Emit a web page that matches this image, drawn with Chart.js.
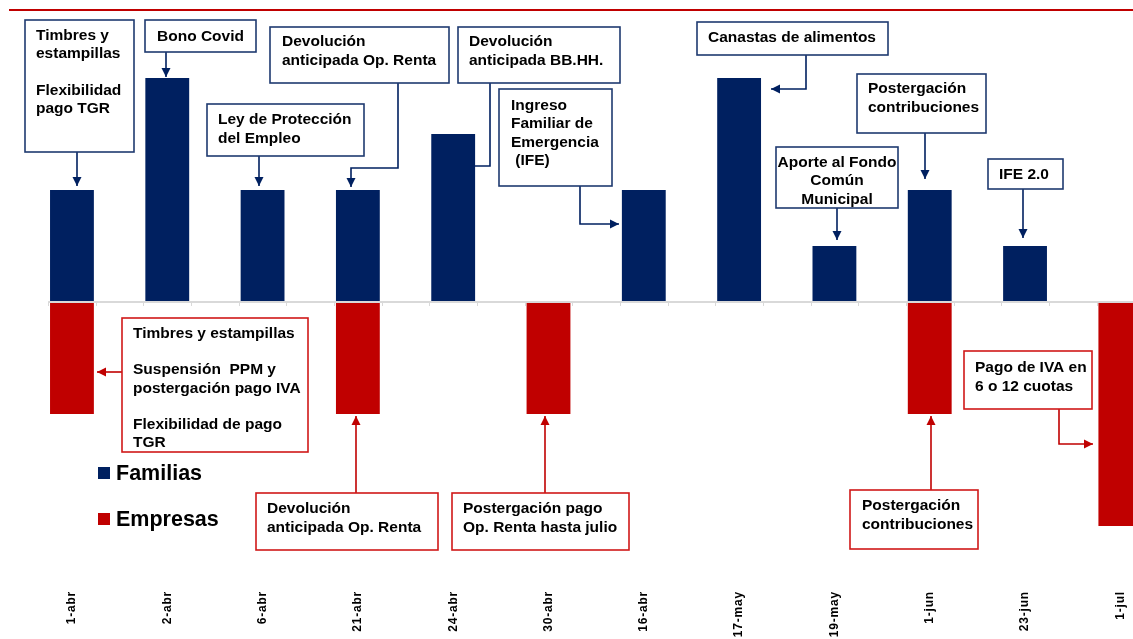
<!DOCTYPE html>
<html>
<head>
<meta charset="utf-8">
<script src="https://cdn.jsdelivr.net/npm/chart.js@4.4.1/dist/chart.umd.min.js"></script>
<style>
  html, body { margin: 0; padding: 0; overflow: hidden; background: #fff; }
  canvas { display: block; }
</style>
</head>
<body>
<canvas id="medidasChart" width="1169" height="639"></canvas>
<script>
const categories = ["1-abr", "2-abr", "6-abr", "21-abr", "24-abr", "30-abr", "16-abr", "17-may", "19-may", "1-jun", "23-jun", "1-jul"];
const familias = [2, 4, 2, 2, 3, null, 2, 4, 1, 2, 1, null];
const empresas = [-2, null, null, -2, null, -2, null, null, null, -2, null, -4];

const NAVY = "#002060";
const RED = "#C00000";
const FONT = '"Liberation Sans", Arial, sans-serif';

// text boxes with their connectors (canvas pixels)
const notes = [
  { c: "navy", box: [25, 20, 109, 132], tx: 36, bl: 40, lh: 18.3, lines: ["Timbres y", "estampillas", "", "Flexibilidad", "pago TGR"], arrow: [[77, 152], [77, 186]] },
  { c: "navy", box: [145, 20, 111, 32], tx: 157, bl: 41, lh: 18.5, lines: ["Bono Covid"], arrow: [[166, 52], [166, 77]] },
  { c: "navy", box: [270, 27, 179, 56], tx: 282, bl: 46, lh: 19, lines: ["Devolución", "anticipada Op. Renta"], arrow: [[398, 83], [398, 168], [351, 168], [351, 187]] },
  { c: "navy", box: [207, 104, 157, 52], tx: 218, bl: 124, lh: 18.7, lines: ["Ley de Protección", "del Empleo"], arrow: [[259, 156], [259, 186]] },
  { c: "navy", box: [458, 27, 162, 56], tx: 469, bl: 46, lh: 19, lines: ["Devolución", "anticipada BB.HH."], arrow: [[490, 83], [490, 166], [475, 166]], noHead: true },
  { c: "navy", box: [499, 89, 113, 97], tx: 511, bl: 110, lh: 18.3, lines: ["Ingreso", "Familiar de", "Emergencia", " (IFE)"], arrow: [[580, 186], [580, 224], [619, 224]] },
  { c: "navy", box: [697, 22, 191, 33], tx: 708, bl: 42, lh: 18.5, lines: ["Canastas de alimentos"], arrow: [[806, 55], [806, 89], [771, 89]] },
  { c: "navy", box: [857, 74, 129, 59], tx: 868, bl: 93, lh: 19, lines: ["Postergación", "contribuciones"], arrow: [[925, 133], [925, 179]] },
  { c: "navy", box: [776, 147, 122, 61], tx: 837, bl: 167, lh: 18.3, center: true, lines: ["Aporte al Fondo", "Común", "Municipal"], arrow: [[837, 208], [837, 240]] },
  { c: "navy", box: [988, 159, 75, 30], tx: 999, bl: 179, lh: 18.5, lines: ["IFE 2.0"], arrow: [[1023, 189], [1023, 238]] },
  { c: "red", box: [122, 318, 186, 134], tx: 133, bl: 338, lh: 18.2, lines: ["Timbres y estampillas", "", "Suspensión  PPM y", "postergación pago IVA", "", "Flexibilidad de pago", "TGR"], arrow: [[122, 372], [97, 372]] },
  { c: "red", box: [256, 493, 182, 57], tx: 267, bl: 513, lh: 19.4, lines: ["Devolución", "anticipada Op. Renta"], arrow: [[356, 493], [356, 416]] },
  { c: "red", box: [452, 493, 177, 57], tx: 463, bl: 513, lh: 19.4, lines: ["Postergación pago", "Op. Renta hasta julio"], arrow: [[545, 493], [545, 416]] },
  { c: "red", box: [850, 490, 128, 59], tx: 862, bl: 510, lh: 19, lines: ["Postergación", "contribuciones"], arrow: [[931, 490], [931, 416]] },
  { c: "red", box: [964, 351, 128, 58], tx: 975, bl: 372, lh: 18.5, lines: ["Pago de IVA en", "6 o 12 cuotas"], arrow: [[1059, 409], [1059, 444], [1093, 444]] },
];

function arrowHead(ctx, from, to, color) {
  const ang = Math.atan2(to[1] - from[1], to[0] - from[0]);
  const len = 9, half = 4.5;
  ctx.fillStyle = color;
  ctx.beginPath();
  ctx.moveTo(to[0], to[1]);
  ctx.lineTo(to[0] - len * Math.cos(ang) + half * Math.sin(ang), to[1] - len * Math.sin(ang) - half * Math.cos(ang));
  ctx.lineTo(to[0] - len * Math.cos(ang) - half * Math.sin(ang), to[1] - len * Math.sin(ang) + half * Math.cos(ang));
  ctx.closePath();
  ctx.fill();
}

const decorPlugin = {
  id: "decor",
  beforeDraw(chart) {
    // slightly spaced tick labels, as in the original
    chart.ctx.letterSpacing = "0.8px";
  },
  afterDatasetsDraw(chart) {
    const ctx = chart.ctx;
    const xs = chart.scales.x;
    const ys = chart.scales.y;
    const y0 = ys.getPixelForValue(0);
    ctx.save();
    ctx.letterSpacing = "0px";

    // red rule on top
    ctx.strokeStyle = RED;
    ctx.lineWidth = 2;
    ctx.beginPath();
    ctx.moveTo(9, 10);
    ctx.lineTo(chart.width, 10);
    ctx.stroke();

    // zero line with small ticks
    const startX = xs.getPixelForValue(-0.25);
    ctx.strokeStyle = "#d9d9d9";
    ctx.lineWidth = 2;
    ctx.beginPath();
    ctx.moveTo(startX, y0);
    ctx.lineTo(chart.width, y0);
    ctx.stroke();
    ctx.lineWidth = 1;
    ctx.beginPath();
    for (let k = -0.25; k < categories.length; k += 0.5) {
      const px = Math.round(xs.getPixelForValue(k)) + 0.5;
      ctx.moveTo(px, y0);
      ctx.lineTo(px, y0 + 4);
    }
    ctx.stroke();

    // notes
    notes.forEach(function (n) {
      const col = n.c === "navy" ? NAVY : RED;
      const border = n.c === "navy" ? "#1f3a70" : "#d01818";
      ctx.strokeStyle = col;
      ctx.lineWidth = 1.6;
      ctx.beginPath();
      n.arrow.forEach(function (p, i) {
        if (i === 0) ctx.moveTo(p[0], p[1]);
        else ctx.lineTo(p[0], p[1]);
      });
      ctx.stroke();
      if (!n.noHead) {
        const a = n.arrow;
        arrowHead(ctx, a[a.length - 2], a[a.length - 1], col);
      }
      const b = n.box;
      ctx.fillStyle = "#fff";
      ctx.fillRect(b[0], b[1], b[2], b[3]);
      ctx.strokeStyle = border;
      ctx.lineWidth = 1.6;
      ctx.strokeRect(b[0], b[1], b[2], b[3]);
      ctx.fillStyle = "#000";
      ctx.font = "bold 15.5px " + FONT;
      ctx.textAlign = n.center ? "center" : "left";
      ctx.textBaseline = "alphabetic";
      n.lines.forEach(function (t, i) {
        ctx.fillText(t, n.tx, n.bl + i * n.lh);
      });
    });

    // legend
    const legendY = [467, 513];
    chart.data.datasets.forEach(function (ds, i) {
      ctx.fillStyle = ds.backgroundColor;
      ctx.fillRect(98, legendY[i], 12, 12);
      ctx.fillStyle = "#000";
      ctx.font = "bold 21.5px " + FONT;
      ctx.textAlign = "left";
      ctx.fillText(ds.label, 116, legendY[i] + 13);
    });

    ctx.restore();
  },
};

document.addEventListener("DOMContentLoaded", function () {
  const ctx = document.getElementById("medidasChart").getContext("2d");
  const medidasChart = new Chart(ctx, {
    type: "bar",
    data: {
      labels: categories,
      datasets: [
        {
          label: "Familias",
          data: familias,
          backgroundColor: NAVY,
          barPercentage: 0.46,
          categoryPercentage: 1,
        },
        {
          label: "Empresas",
          data: empresas,
          backgroundColor: RED,
          barPercentage: 0.46,
          categoryPercentage: 1,
        },
      ],
    },
    options: {
      responsive: false,
      animation: false,
      layout: {
        padding: { top: 22, left: 24.3, right: 1, bottom: 0 },
      },
      plugins: {
        legend: { display: false },
        tooltip: { enabled: false },
      },
      scales: {
        x: {
          stacked: true,
          grid: { display: false },
          border: { display: false },
          ticks: {
            autoSkip: false,
            maxRotation: 90,
            minRotation: 90,
            padding: 1,
            color: "#000",
            font: { family: FONT, size: 12, weight: "bold" },
          },
          afterFit: function (axis) {
            axis.height = 57;
          },
        },
        y: {
          stacked: true,
          display: false,
          min: -5,
          max: 5,
        },
      },
    },
    plugins: [decorPlugin],
  });
});
</script>
</body>
</html>
